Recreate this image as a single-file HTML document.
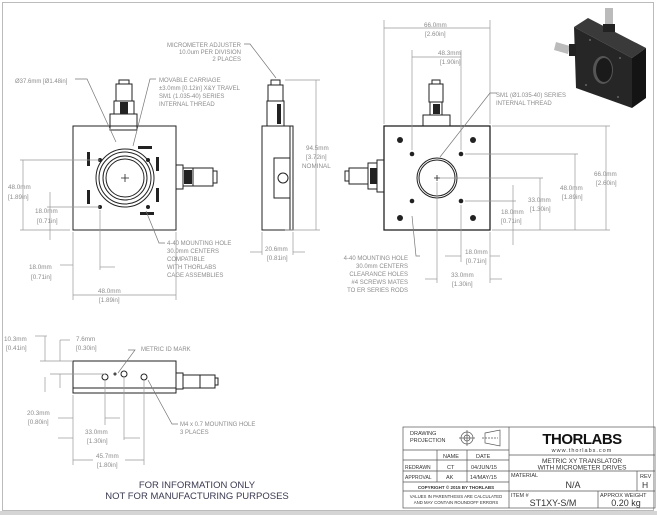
<!DOCTYPE html>
<html><head><meta charset="utf-8"><style>
html,body{margin:0;padding:0;background:#fff;}
svg{display:block;font-family:"Liberation Sans",sans-serif;}
.t{fill:#8c8c8c;font-size:6px;}
.d{fill:#8c8c8c;font-size:6.3px;}
</style></head><body>
<svg width="657" height="515" viewBox="0 0 657 515" xmlns="http://www.w3.org/2000/svg">
<rect x="0" y="0" width="657" height="515" fill="#fff"/>
<rect x="2.5" y="2.5" width="651" height="508" fill="none" stroke="#bbb" stroke-width="1"/>
<rect x="0" y="511" width="657" height="4" fill="#d5d5d5"/>

<g stroke="#222" fill="none" stroke-width="1">
<rect x="73" y="126" width="103" height="104"/>
<rect x="110" y="114" width="27" height="16"/>
<rect x="116" y="84" width="16" height="17" fill="#fff"/>
<rect x="119" y="80" width="10" height="4"/>
<rect x="114" y="101" width="20" height="13"/>
<circle cx="125" cy="178" r="29"/>
<circle cx="125" cy="178" r="26"/>
<circle cx="125" cy="178" r="22"/>
<circle cx="125" cy="178" r="19"/>
<path d="M121 178h8M125 174v8" stroke-width="0.8"/>
<rect x="176" y="165" width="7" height="24"/>
<rect x="183" y="168" width="10" height="18"/>
<rect x="193" y="168" width="20" height="18"/>
<rect x="213" y="171" width="4" height="12"/>
<rect x="262" y="126" width="31" height="104"/>
<line x1="290" y1="126" x2="290" y2="230"/>
<rect x="268" y="85" width="15" height="16"/>
<rect x="271" y="80" width="9" height="5"/>
<rect x="267" y="101" width="17" height="25"/>
<rect x="274" y="158" width="16" height="40"/>
<circle cx="283" cy="178" r="5"/>
<rect x="384" y="126" width="106" height="104" stroke-width="1.3"/>
<circle cx="437" cy="178" r="20"/>
<circle cx="437" cy="178" r="18"/>
<path d="M434 178h6M437 175v6" stroke-width="0.8"/>
<rect x="423" y="115" width="27" height="11"/>
<rect x="429" y="84" width="14" height="18"/>
<rect x="432" y="80" width="8" height="4"/>
<rect x="430" y="102" width="12" height="13"/>
<rect x="377" y="160" width="7" height="32"/>
<rect x="368" y="163" width="9" height="26"/>
<rect x="349" y="168" width="19" height="16"/>
<rect x="345" y="171" width="4" height="10"/>
<rect x="73" y="361" width="103" height="32"/>
<line x1="73" y1="388" x2="176" y2="388"/>
<rect x="176" y="373" width="7" height="16"/>
<rect x="183" y="375" width="17" height="13"/>
<rect x="200" y="375" width="15" height="13"/>
<rect x="215" y="378" width="3" height="7"/>
<circle cx="105" cy="377" r="3"/><circle cx="124" cy="374" r="3"/><circle cx="144" cy="377" r="3"/>
<circle cx="115" cy="374" r="1"/>
</g>
<g fill="#222">
<circle cx="100" cy="160" r="2"/><circle cx="148" cy="160" r="2"/><circle cx="100" cy="207" r="2"/><circle cx="148" cy="207" r="2"/>
<rect x="87" y="152" width="3" height="14"/><rect x="87" y="190" width="3" height="14"/>
<rect x="156" y="157" width="3" height="14"/><rect x="156" y="188" width="3" height="14"/>
<rect x="138" y="146" width="14" height="3"/><rect x="140" y="212" width="14" height="3"/>
<circle cx="400" cy="140" r="3"/><circle cx="473" cy="140" r="3"/><circle cx="400" cy="218" r="3"/><circle cx="473" cy="218" r="3"/>
<circle cx="412" cy="154" r="2.3"/><circle cx="461" cy="154" r="2.3"/><circle cx="412" cy="201" r="2.3"/><circle cx="461" cy="201" r="2.3"/>
<rect x="120" y="102" width="8" height="12"/><rect x="433" y="104" width="7" height="10"/>
<rect x="370" y="168" width="7" height="16"/><rect x="184" y="170" width="8" height="14"/>
<rect x="277" y="104" width="4" height="20"/>
</g>
<!-- 3D image -->
<g>
<polygon points="574,27 588,18 646,48 632,58" fill="#3a3a3a"/>
<polygon points="574,27 632,58 632,108 576,88" fill="#262626"/>
<polygon points="632,58 646,48 646,98 632,108" fill="#141414"/>
<ellipse cx="603" cy="70" rx="10" ry="14" fill="#555"/>
<ellipse cx="604" cy="70" rx="8" ry="12" fill="#1a1a1a"/>
<rect x="605" y="8" width="8" height="16" fill="#bbb"/>
<rect x="603" y="24" width="12" height="8" fill="#222"/>
<polygon points="556,42 570,46 568,54 554,50" fill="#bbb"/>
<rect x="569" y="44" width="7" height="12" fill="#222"/>
<circle cx="590" cy="40" r="1" fill="#666"/><circle cx="620" cy="58" r="1" fill="#666"/><circle cx="586" cy="85" r="1" fill="#666"/><circle cx="618" cy="97" r="1" fill="#666"/>
</g>
<g stroke="#999" stroke-width="0.7" fill="none">
<line x1="20" y1="160" x2="100" y2="160"/><line x1="20" y1="230" x2="70" y2="230"/><line x1="23" y1="160" x2="23" y2="230"/>
<line x1="47" y1="207" x2="100" y2="207"/><line x1="50" y1="192" x2="50" y2="240"/>
<line x1="73" y1="232" x2="73" y2="300"/><line x1="176" y1="232" x2="176" y2="300"/><line x1="73" y1="295" x2="176" y2="295"/>
<line x1="100" y1="210" x2="100" y2="270"/><line x1="60" y1="265" x2="73" y2="265"/><line x1="100" y1="267" x2="115" y2="267"/>
<line x1="285" y1="80" x2="320" y2="80"/><line x1="285" y1="230" x2="320" y2="230"/><line x1="316" y1="80" x2="316" y2="230"/>
<line x1="262" y1="232" x2="262" y2="255"/><line x1="293" y1="232" x2="293" y2="255"/>
<line x1="250" y1="252" x2="262" y2="252"/><line x1="293" y1="252" x2="305" y2="252"/>
<line x1="384" y1="20" x2="384" y2="124"/><line x1="490" y1="20" x2="490" y2="124"/><line x1="384" y1="28" x2="490" y2="28"/>
<line x1="412" y1="50" x2="412" y2="150"/><line x1="461" y1="50" x2="461" y2="150"/><line x1="412" y1="57" x2="461" y2="57"/>
<line x1="492" y1="126" x2="610" y2="126"/><line x1="492" y1="230" x2="610" y2="230"/><line x1="606" y1="126" x2="606" y2="230"/>
<line x1="465" y1="154" x2="578" y2="154"/><line x1="575" y1="154" x2="575" y2="230"/>
<line x1="440" y1="178" x2="543" y2="178"/><line x1="540" y1="178" x2="540" y2="230"/>
<line x1="465" y1="201" x2="516" y2="201"/><line x1="513" y1="185" x2="513" y2="245"/>
<line x1="437" y1="182" x2="437" y2="283"/><line x1="490" y1="232" x2="490" y2="283"/><line x1="461" y1="205" x2="461" y2="262"/>
<line x1="425" y1="279" x2="437" y2="279"/><line x1="490" y1="279" x2="502" y2="279"/>
<line x1="445" y1="256" x2="461" y2="256"/><line x1="490" y1="256" x2="500" y2="256"/>
<line x1="35" y1="336" x2="47" y2="336"/><line x1="45" y1="336" x2="45" y2="361"/><line x1="45" y1="377" x2="45" y2="392"/>
<line x1="40" y1="361" x2="73" y2="361"/><line x1="50" y1="374" x2="105" y2="374"/>
<line x1="60" y1="340" x2="70" y2="340"/><line x1="60" y1="340" x2="60" y2="361"/><line x1="60" y1="374" x2="60" y2="388"/>
<line x1="73" y1="395" x2="73" y2="465"/><line x1="105" y1="380" x2="105" y2="425"/><line x1="124" y1="378" x2="124" y2="440"/><line x1="144" y1="380" x2="144" y2="465"/>
<line x1="58" y1="418" x2="73" y2="418"/><line x1="105" y1="418" x2="120" y2="418"/>
<line x1="58" y1="438" x2="73" y2="438"/><line x1="124" y1="438" x2="140" y2="438"/>
<line x1="73" y1="460" x2="93" y2="460"/><line x1="125" y1="460" x2="144" y2="460"/>
</g>
<g stroke="#777" stroke-width="0.7" fill="none">
<path d="M75 79h12l29 63"/><path d="M156 79h-6l-17 67"/><path d="M244 44h6l26 34"/>
<path d="M165 243h-6l-13-32"/><path d="M497 93h-7l-50 64"/><path d="M420 256h-4l-4-40"/>
<path d="M128 350h7l-17 23"/><path d="M178 424h-6l-24-44"/>
</g>
<g class="t">
<text x="15" y="83">Ø37.6mm [Ø1.48in]</text>
<text x="159" y="82">MOVABLE CARRIAGE</text>
<text x="159" y="90">±3.0mm [0.12in] X&amp;Y TRAVEL</text>
<text x="159" y="98">SM1 (1.035-40) SERIES</text>
<text x="159" y="106">INTERNAL THREAD</text>
<text x="241" y="47" text-anchor="end">MICROMETER ADJUSTER</text>
<text x="241" y="54" text-anchor="end">10.0um PER DIVISION</text>
<text x="241" y="61" text-anchor="end">2 PLACES</text>
<text x="167" y="245">4-40 MOUNTING HOLE</text>
<text x="167" y="253">30.0mm CENTERS</text>
<text x="167" y="261">COMPATIBLE</text>
<text x="167" y="269">WITH THORLABS</text>
<text x="167" y="277">CAGE ASSEMBLIES</text>
<text x="496" y="97">SM1 (Ø1.035-40) SERIES</text>
<text x="496" y="105">INTERNAL THREAD</text>
<text x="408" y="260" text-anchor="end">4-40 MOUNTING HOLE</text>
<text x="408" y="268" text-anchor="end">30.0mm CENTERS</text>
<text x="408" y="276" text-anchor="end">CLEARANCE HOLES</text>
<text x="408" y="284" text-anchor="end">#4 SCREWS MATES</text>
<text x="408" y="292" text-anchor="end">TO ER SERIES RODS</text>
<text x="141" y="351">METRIC ID MARK</text>
<text x="180" y="426">M4 x 0.7 MOUNTING HOLE</text>
<text x="180" y="434">3 PLACES</text>
</g>
<g class="d">
<text x="8" y="189">48.0mm</text><text x="8" y="199">[1.89in]</text>
<text x="35" y="213">18.0mm</text><text x="37" y="223">[0.71in]</text>
<text x="29" y="269">18.0mm</text><text x="31" y="279">[0.71in]</text>
<text x="98" y="293">48.0mm</text><text x="99" y="302">[1.89in]</text>
<text x="306" y="150">94.5mm</text><text x="306" y="159">[3.72in]</text><text x="302" y="168">NOMINAL</text>
<text x="265" y="251">20.6mm</text><text x="267" y="260">[0.81in]</text>
<text x="424" y="27">66.0mm</text><text x="425" y="36">[2.60in]</text>
<text x="438" y="55">48.3mm</text><text x="440" y="64">[1.90in]</text>
<text x="594" y="176">66.0mm</text><text x="596" y="185">[2.60in]</text>
<text x="560" y="190">48.0mm</text><text x="562" y="199">[1.89in]</text>
<text x="528" y="202">33.0mm</text><text x="530" y="211">[1.30in]</text>
<text x="501" y="214">18.0mm</text><text x="501" y="223">[0.71in]</text>
<text x="465" y="254">18.0mm</text><text x="466" y="263">[0.71in]</text>
<text x="451" y="277">33.0mm</text><text x="452" y="286">[1.30in]</text>
<text x="4" y="341">10.3mm</text><text x="6" y="350">[0.41in]</text>
<text x="76" y="341">7.6mm</text><text x="76" y="350">[0.30in]</text>
<text x="27" y="415">20.3mm</text><text x="28" y="424">[0.80in]</text>
<text x="85" y="434">33.0mm</text><text x="87" y="443">[1.30in]</text>
<text x="96" y="458">45.7mm</text><text x="97" y="467">[1.80in]</text>
</g>
<g fill="#3a3a50" font-size="9.5" text-anchor="middle">
<text x="197" y="488">FOR INFORMATION ONLY</text>
<text x="197" y="499">NOT FOR MANUFACTURING PURPOSES</text>
</g>
<g stroke="#555" stroke-width="0.7" fill="none">
<rect x="403" y="427" width="252" height="81"/>
<line x1="509" y1="427" x2="509" y2="508"/>
<line x1="403" y1="450" x2="509" y2="450"/><line x1="403" y1="460" x2="509" y2="460"/><line x1="403" y1="471" x2="509" y2="471"/>
<line x1="403" y1="482" x2="509" y2="482"/><line x1="403" y1="491" x2="509" y2="491"/>
<line x1="437" y1="450" x2="437" y2="482"/><line x1="467" y1="450" x2="467" y2="482"/>
<line x1="509" y1="455" x2="655" y2="455"/><line x1="509" y1="471" x2="655" y2="471"/><line x1="509" y1="491" x2="655" y2="491"/>
<line x1="637" y1="471" x2="637" y2="491"/><line x1="598" y1="491" x2="598" y2="508"/>
<circle cx="467" cy="438" r="6"/><circle cx="467" cy="438" r="3"/><path d="M459 438h16M467 430v16"/>
<path d="M485 433l15-3v16l-15-3z"/><path d="M482 438h16" stroke-dasharray="2 1"/>
</g>
<g fill="#333" font-size="5.5">
<text x="410" y="435">DRAWING</text><text x="410" y="442">PROJECTION</text>
<text x="443" y="458">NAME</text><text x="476" y="458">DATE</text>
<text x="405" y="469" font-size="5">REDRAWN</text><text x="447" y="469">CT</text><text x="471" y="469">04/JUN/15</text>
<text x="405" y="479" font-size="5">APPROVAL</text><text x="446" y="479">AK</text><text x="470" y="479">14/MAY/15</text>
<text x="456" y="489" font-size="4.5" text-anchor="middle" font-weight="bold">COPYRIGHT © 2015 BY THORLABS</text>
<text x="456" y="498" font-size="4.3" text-anchor="middle">VALUES IN PARENTHESIS ARE CALCULATED</text>
<text x="456" y="504" font-size="4.3" text-anchor="middle">AND MAY CONTAIN ROUNDOFF ERRORS</text>
<text x="582" y="444" font-size="15" font-weight="bold" text-anchor="middle" fill="#111" letter-spacing="-0.5">THORLABS</text>
<text x="582" y="452" font-size="5.5" text-anchor="middle" letter-spacing="1">www.thorlabs.com</text>
<text x="582" y="463" font-size="6.5" text-anchor="middle">METRIC XY TRANSLATOR</text>
<text x="582" y="469.5" font-size="6.5" text-anchor="middle">WITH MICROMETER DRIVES</text>
<text x="511" y="477">MATERIAL</text>
<text x="573" y="488" font-size="9" text-anchor="middle">N/A</text>
<text x="640" y="478">REV</text><text x="642" y="488" font-size="8.5">H</text>
<text x="511" y="497">ITEM #</text>
<text x="553" y="506" font-size="9" text-anchor="middle">ST1XY-S/M</text>
<text x="600" y="497">APPROX WEIGHT</text>
<text x="626" y="506" font-size="9" text-anchor="middle">0.20 kg</text>
</g>
</svg>
</body></html>
